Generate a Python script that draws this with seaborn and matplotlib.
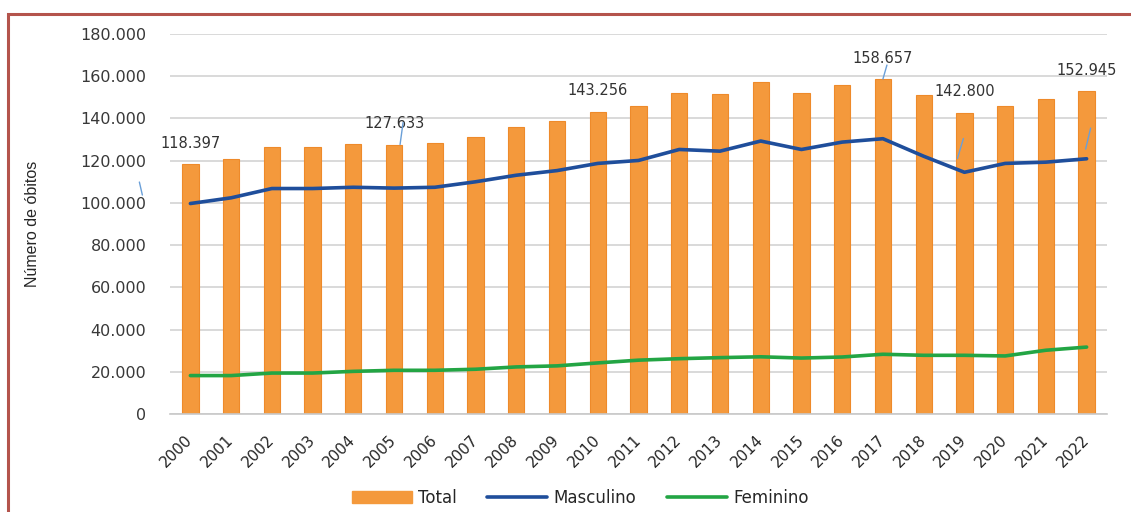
import pandas as pd
import matplotlib.pyplot as plt
import seaborn as sns
from matplotlib.patches import Patch, Rectangle
from matplotlib.lines import Line2D
from matplotlib.transforms import offset_copy

# --- Datos ---
anos = [str(a) for a in range(2000, 2023)]
total = [118397, 120900, 126700, 126600, 127700, 127633, 128200, 131000, 136100,
         138900, 143256, 146100, 152000, 151600, 157300, 152000, 156000, 158657,
         151100, 142800, 145900, 149400, 152945]
masculino = [99700, 102400, 106800, 106800, 107400, 107000, 107400, 110000, 113100,
             115300, 118700, 120100, 125300, 124500, 129300, 125300, 128800, 130400,
             122100, 114500, 118700, 119300, 120900]
feminino = [18200, 18200, 19400, 19400, 20200, 20700, 20700, 21200, 22300, 22800,
            24200, 25500, 26200, 26700, 27100, 26500, 27000, 28300, 27800, 27800,
            27500, 30200, 31700]
anos_rotulados = ['2000', '2005', '2010', '2017', '2019', '2022']
y_ticks = list(range(0, 180001, 20000))

df = pd.DataFrame({'ano': anos, 'total': total, 'masculino': masculino, 'feminino': feminino})

COR_TOTAL = '#F4993C'
COR_MASC = '#1F4E9B'
COR_FEM = '#23A544'
COR_GUIA = '#6A9FD8'

sns.set_theme(style='white')
plt.rcParams['font.family'] = ['DejaVu Sans']

fig = plt.figure(figsize=(11.31, 5.12), dpi=100)
ax = fig.add_axes([170 / 1131, 98 / 512, 937 / 1131, 380 / 512])

sns.barplot(data=df, x='ano', y='total', color=COR_TOTAL, saturation=1, width=0.4,
            edgecolor='#EE8A2A', linewidth=0.8, ax=ax, zorder=2)
sns.pointplot(data=df, x='ano', y='masculino', color=COR_MASC, marker='', linewidth=2.6,
              errorbar=None, ax=ax, zorder=3)
sns.pointplot(data=df, x='ano', y='feminino', color=COR_FEM, marker='', linewidth=2.6,
              errorbar=None, ax=ax, zorder=3)

ax.set_xlim(-0.5, len(anos) - 0.5)
ax.set_ylim(0, 180000)
ax.set_yticks(y_ticks)
ax.set_yticklabels([f'{v:,}'.replace(',', '.') for v in y_ticks], fontsize=11.5, color='#383838')
ax.yaxis.grid(True, color='#D3D3D3', linewidth=1.2, zorder=0)
ax.set_axisbelow(True)
ax.tick_params(axis='y', length=0, pad=17)
ax.tick_params(axis='x', length=0, pad=17)
for lbl in ax.get_xticklabels():
    lbl.set_rotation(45)
    lbl.set_ha('right')
    lbl.set_va('center')
    lbl.set_rotation_mode('anchor')
    lbl.set_fontsize(11)
    lbl.set_color('#262626')
for s in ['top', 'right', 'left']:
    ax.spines[s].set_visible(False)
ax.spines['bottom'].set_color('#C8C8C8')
ax.spines['bottom'].set_linewidth(1.2)
ax.set_xlabel('')
ax.set_ylabel('Número de óbitos', fontsize=11.5, family='Liberation Sans', color='#262626')
ax.yaxis.set_label_coords(-130 / 937, 0.5)

# --- Rótulos de dados ---
for ano in anos_rotulados:
    i = anos.index(ano)
    ax.annotate(f'{total[i]:,}'.replace(',', '.'), xy=(i, total[i]), xytext=(0, 21),
                textcoords='offset pixels', ha='center', va='center', fontsize=10.5,
                color='#333333', zorder=5)

# linhas de chamada (deslocamentos em pixels a partir do topo da barra)
guias = {'2000': ((-51, -18), (-48, -31)),
         '2005': ((6, 0), (9, 22)),
         '2017': ((0, 0), (4, 14)),
         '2019': ((-1, -26), (-7, -46)),
         '2022': ((4, -37), (-1, -58))}
for ano, (p1, p2) in guias.items():
    i = anos.index(ano)
    trans = offset_copy(ax.transData, fig=fig, x=p2[0], y=p2[1], units='dots')
    ax.annotate('', xy=(i, total[i]), xycoords=trans,
                xytext=(p1[0] - p2[0], p1[1] - p2[1]), textcoords='offset pixels',
                arrowprops=dict(arrowstyle='-', color=COR_GUIA, lw=1.0, shrinkA=0, shrinkB=0),
                zorder=5)

# --- Legenda ---
handles = [Patch(facecolor=COR_TOTAL, edgecolor=COR_TOTAL, label='Total'),
           Line2D([], [], color=COR_MASC, lw=2.6, label='Masculino'),
           Line2D([], [], color=COR_FEM, lw=2.6, label='Feminino')]
fig.legend(handles=handles, loc='center', bbox_to_anchor=(0.513, 0.028), ncol=3,
           frameon=False, fontsize=12, handlelength=3.6, handletextpad=0.4,
           columnspacing=1.8, labelcolor='#262626')

# --- Moldura ---
fig.patches.append(Rectangle((8 / 1131, -0.05), 1.2, (512 - 14) / 512 + 0.05,
                             transform=fig.transFigure, fill=False, edgecolor='#B4544C',
                             linewidth=2.2, zorder=10))

fig.savefig('out.png', dpi=100)
plt.close(fig)
